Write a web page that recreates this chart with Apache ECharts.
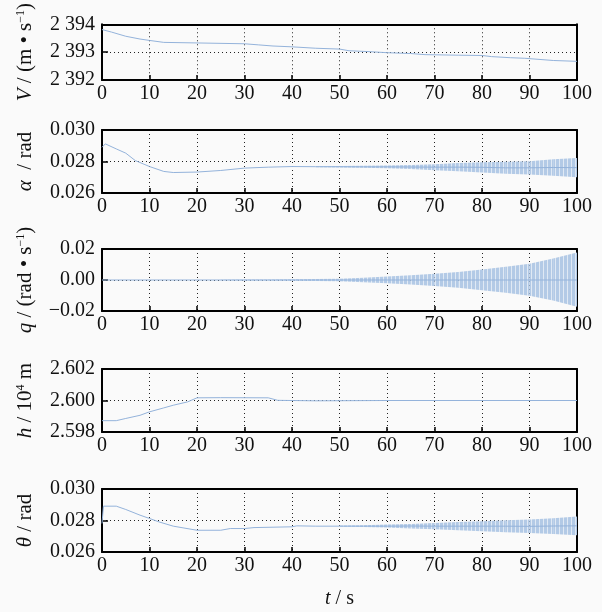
<!DOCTYPE html>
<html>
<head>
<meta charset="utf-8">
<script src="https://cdn.jsdelivr.net/npm/echarts@6/dist/echarts.min.js"></script>
<style>
html,body{margin:0;padding:0;background:#fafafa}
#main{width:602px;height:612px}
</style>
</head>
<body>
<div id="main"></div>
<script>
// ---- data ----
var xTicks = [0, 10, 20, 30, 40, 50, 60, 70, 80, 90, 100];

// V (m/s)
var tV   = [0, 2, 5, 8, 10, 13, 20, 30, 33, 36, 40, 45, 50, 52, 56, 60, 65, 68, 75, 80, 82, 86, 89, 92, 95, 100];
var valV = [2393.81, 2393.72, 2393.57, 2393.47, 2393.42, 2393.35, 2393.33, 2393.30, 2393.26, 2393.22, 2393.19, 2393.14, 2393.11, 2393.05, 2393.02, 2392.98, 2392.95, 2392.91, 2392.89, 2392.88, 2392.84, 2392.80, 2392.78, 2392.74, 2392.70, 2392.67];

// alpha (rad)
var tAlpha   = [0, 0.7, 3, 5, 7, 10, 13, 15, 20, 25, 30, 35, 40, 45, 50, 55, 60, 65, 70, 75, 80, 85, 90, 95, 100];
var valAlpha = [0.02890, 0.02912, 0.02880, 0.02853, 0.02806, 0.02768, 0.02737, 0.02730, 0.02733, 0.02743, 0.02758, 0.02764, 0.02768, 0.02767, 0.02767, 0.02766, 0.02766, 0.02765, 0.02764, 0.02764, 0.02763, 0.02760, 0.02760, 0.02762, 0.02761];
var bandTAlpha  = [45, 50, 55, 60, 65, 70, 75, 80, 85, 90, 95, 100];
var bandUpAlpha = [0.02770, 0.02772, 0.02773, 0.02775, 0.02777, 0.02782, 0.02790, 0.02795, 0.02798, 0.02802, 0.02815, 0.02822];
var bandLoAlpha = [0.02764, 0.02762, 0.02760, 0.02757, 0.02752, 0.02745, 0.02738, 0.02730, 0.02722, 0.02718, 0.02710, 0.02700];

// q (rad/s)
var tQ   = [0, 100];
var valQ = [0, 0];
var bandTQ  = [25, 30, 35, 40, 45, 50, 55, 60, 65, 70, 75, 80, 85, 90, 95, 100];
var bandUpQ = [0.0002, 0.0003, 0.0004, 0.0005, 0.0006, 0.0008, 0.0015, 0.0022, 0.0030, 0.0040, 0.0052, 0.0068, 0.0085, 0.0105, 0.0138, 0.0178];
var bandLoQ = [-0.0002, -0.0003, -0.0004, -0.0005, -0.0006, -0.0008, -0.0014, -0.0021, -0.0029, -0.0039, -0.0050, -0.0066, -0.0082, -0.0101, -0.0132, -0.0172];

// h (10^4 m)
var tH   = [0, 3, 5, 8, 10, 13, 15, 18, 20, 25, 35, 37, 45, 60, 100];
var valH = [2.59872, 2.59872, 2.59886, 2.59906, 2.59928, 2.59953, 2.59970, 2.59991, 2.60017, 2.60018, 2.60017, 2.60001, 2.59998, 2.60000, 2.60000];

// theta (rad)
var tTheta   = [0, 0.3, 3, 5, 8, 10, 12, 15, 20, 25, 27, 30, 32, 40, 41, 45, 50, 55, 60, 65, 70, 75, 80, 85, 90, 95, 100];
var valTheta = [0.02781, 0.02891, 0.02891, 0.02870, 0.02834, 0.02813, 0.02791, 0.02764, 0.02738, 0.02738, 0.02749, 0.02749, 0.02755, 0.02760, 0.02766, 0.02764, 0.02764, 0.02764, 0.02764, 0.02765, 0.02764, 0.02764, 0.02764, 0.02764, 0.02763, 0.02765, 0.02766];
var bandTTheta  = [50, 55, 60, 65, 70, 75, 80, 85, 90, 95, 100];
var bandUpTheta = [0.02768, 0.02770, 0.02774, 0.02778, 0.02784, 0.02790, 0.02796, 0.02802, 0.02806, 0.02814, 0.02826];
var bandLoTheta = [0.02760, 0.02758, 0.02755, 0.02750, 0.02744, 0.02738, 0.02732, 0.02726, 0.02720, 0.02714, 0.02706];

// ---- drawing ----
var FONT = 'Liberation Serif';
var LINE = '#94b3db';

// striped fill for the oscillation bands
var stripe = document.createElement('canvas');
stripe.width = 4; stripe.height = 4;
var sc = stripe.getContext('2d');
sc.fillStyle = '#e0e9f4'; sc.fillRect(0, 0, 4, 4);
sc.fillStyle = '#b3cae6'; sc.fillRect(0, 0, 3, 4);

function zip(a, b) {
  var out = [];
  for (var i = 0; i < a.length; i++) out.push([a[i], b[i]]);
  return out;
}

var panels = [
  { top: 16, h: 64, min: 2392, max: 2394, t: tV, v: valV,
    name: '{i|V} / (m • s{sup|−1})',
    fmt: function (v) { var s = String(Math.round(v)); return s[0] + ' ' + s.slice(1); } },
  { top: 130, h: 63, min: 0.026, max: 0.030, t: tAlpha, v: valAlpha,
    bt: bandTAlpha, bu: bandUpAlpha, bl: bandLoAlpha,
    name: '{i|α}  / rad',
    fmt: function (v) { return v.toFixed(3); } },
  { top: 249, h: 62, min: -0.02, max: 0.02, t: tQ, v: valQ,
    bt: bandTQ, bu: bandUpQ, bl: bandLoQ,
    name: '{i|q} / (rad • s{sup|−1})',
    fmt: function (v) { if (Math.abs(v) < 1e-9) return '0.00'; return v.toFixed(2).replace('-', '−'); } },
  { top: 369, h: 63, min: 2.598, max: 2.602, t: tH, v: valH,
    name: '{i|h} / 10{sup|4} m',
    fmt: function (v) { return v.toFixed(3); } },
  { top: 489, h: 63, min: 0.026, max: 0.030, t: tTheta, v: valTheta,
    bt: bandTTheta, bu: bandUpTheta, bl: bandLoTheta,
    name: '{i|θ} / rad',
    fmt: function (v) { return v.toFixed(3); } }
];

var dotted = { color: '#222', width: 1, type: [1, 3] };
var frame = { color: '#000', width: 2 };
var grids = [], xAxes = [], yAxes = [], series = [];

panels.forEach(function (p, i) {
  grids.push({ left: 102, right: 25, top: p.top, height: p.h });
  var last = i === panels.length - 1;
  xAxes.push({
    gridIndex: i, type: 'value', min: 0, max: 100, interval: 10,
    axisLine: { show: true, onZero: false, lineStyle: frame },
    axisTick: { inside: true, length: 5, lineStyle: { color: '#000', width: 1.5 } },
    axisLabel: { color: '#111', fontFamily: FONT, fontSize: 20, margin: 4, showMinLabel: true, showMaxLabel: true },
    splitLine: { show: true, lineStyle: dotted },
    name: last ? '{i|t} / s' : '',
    nameLocation: 'middle', nameGap: 37,
    nameTextStyle: { color: '#111', fontFamily: FONT, fontSize: 20,
      rich: { i: { fontStyle: 'italic', fontFamily: FONT, fontSize: 20, color: '#111' } } }
  });
  yAxes.push({
    gridIndex: i, type: 'value', min: p.min, max: p.max, interval: (p.max - p.min) / 2,
    axisLine: { show: true, onZero: false, lineStyle: frame },
    axisTick: { inside: true, length: 6, lineStyle: { color: '#000', width: 1.5 } },
    axisLabel: { color: '#111', fontFamily: FONT, fontSize: 20, margin: 7, formatter: p.fmt },
    splitLine: { show: true, lineStyle: dotted },
    name: p.name, nameLocation: 'middle', nameGap: 66,
    nameTextStyle: { color: '#111', fontFamily: FONT, fontSize: 21,
      rich: {
        i: { fontStyle: 'italic', fontFamily: FONT, fontSize: 21, color: '#111' },
        sup: { fontFamily: FONT, fontSize: 12, verticalAlign: 'top', color: '#111' }
      } }
  });
  if (p.bt) {
    // oscillation envelope: one quad between consecutive envelope samples
    series.push({
      type: 'custom', xAxisIndex: i, yAxisIndex: i, silent: true, z: 3,
      data: p.bt.map(function (t, k) { return [t, p.bl[k], p.bu[k]]; }),
      renderItem: (function (pp) {
        return function (params, api) {
          var k = params.dataIndex;
          if (k >= pp.bt.length - 1) return null;
          var a = api.coord([pp.bt[k], pp.bl[k]]);
          var b = api.coord([pp.bt[k + 1], pp.bl[k + 1]]);
          var c = api.coord([pp.bt[k + 1], pp.bu[k + 1]]);
          var d = api.coord([pp.bt[k], pp.bu[k]]);
          return {
            type: 'polygon',
            shape: { points: [a, b, c, d] },
            style: { fill: { image: stripe, repeat: 'repeat' }, stroke: null }
          };
        };
      })(p)
    });
  }
  series.push({ type: 'line', xAxisIndex: i, yAxisIndex: i, data: zip(p.t, p.v),
    symbol: 'none', silent: true, z: 5,
    lineStyle: { color: LINE, width: 1 } });
});

// top and right edges of each box
panels.forEach(function (p, i) {
  xAxes.push({ gridIndex: i, type: 'value', position: 'top', min: 0, max: 100,
    axisLine: { show: true, onZero: false, lineStyle: frame }, axisTick: { show: false },
    axisLabel: { show: false }, splitLine: { show: false } });
  yAxes.push({ gridIndex: i, type: 'value', position: 'right', min: p.min, max: p.max,
    axisLine: { show: true, onZero: false, lineStyle: frame }, axisTick: { show: false },
    axisLabel: { show: false }, splitLine: { show: false } });
});

var chart = echarts.init(document.getElementById('main'));
chart.setOption({
  animation: false,
  backgroundColor: '#fafafa',
  grid: grids,
  xAxis: xAxes,
  yAxis: yAxes,
  series: series
});
</script>
</body>
</html>
